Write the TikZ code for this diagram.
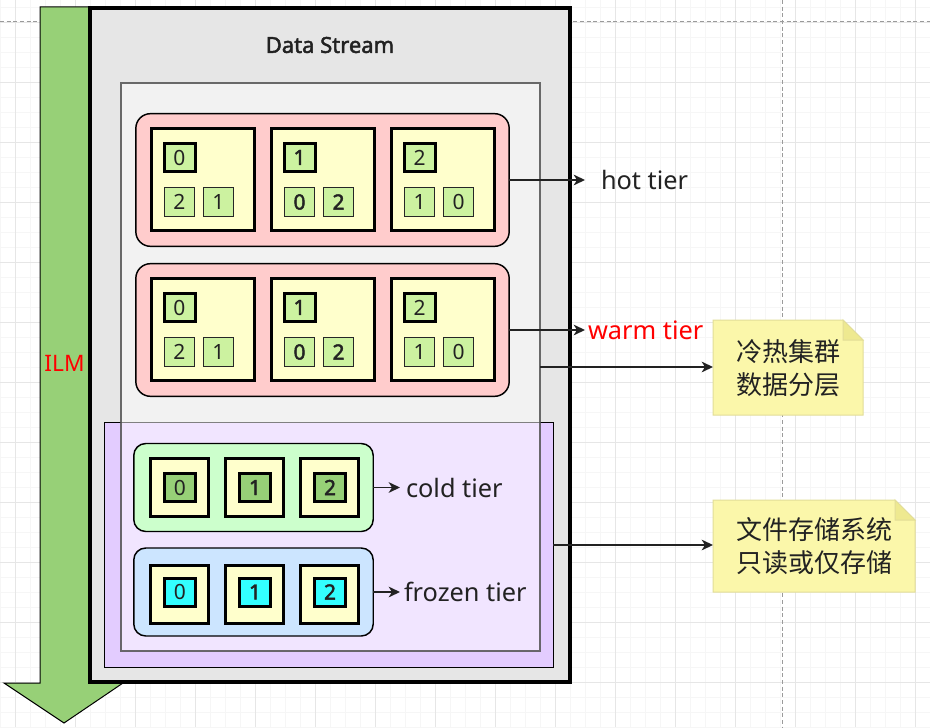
\documentclass[tikz,border=0pt]{standalone}
\usepackage{fontspec}
\setmainfont{Noto Sans}[AutoFakeBold=2.2]
\newfontfamily\cjk{Noto Sans CJK SC}
\usetikzlibrary{arrows.meta}
\definecolor{txt}{HTML}{222222}
\definecolor{gridmajor}{HTML}{E6E6E6}
\definecolor{gridminor}{HTML}{F6F6F6}
\definecolor{guide}{HTML}{9A9A9A}
\definecolor{ilmgreen}{HTML}{97D077}
\definecolor{streamgray}{HTML}{E6E6E6}
\definecolor{purplefill}{HTML}{E3CCFF}
\definecolor{pinkfill}{HTML}{FFCCCC}
\definecolor{boxyellow}{HTML}{FFFFCC}
\definecolor{shardgreen}{HTML}{CCF2A0}
\definecolor{coldgrp}{HTML}{CCFFCC}
\definecolor{coldshard}{HTML}{97D077}
\definecolor{frozengrp}{HTML}{CCE5FF}
\definecolor{frozenshard}{HTML}{33FFFF}
\definecolor{notefill}{HTML}{FBF7AA}
\definecolor{noteline}{HTML}{E2DD98}
\definecolor{notefold}{HTML}{EEE990}
\definecolor{ilmred}{HTML}{FF0000}
\begin{document}
\begin{tikzpicture}[x=0.75pt,y=-0.75pt,
  every node/.style={inner sep=0pt, outer sep=0pt},
  wt0/.style={font=\fontsize{15.75}{16}\selectfont},
  wt1/.style={font=\fontsize{15.75}{16}\selectfont\bfseries},
  grp/.style={draw=black, line width=1.1pt, rounded corners=11pt, minimum width=280pt, minimum height=99.5pt},
  grpsmall/.style={draw=black, line width=1.1pt, rounded corners=9pt, minimum width=179.6pt, minimum height=66pt},
  bigbox/.style={draw=black, line width=2.25pt, fill=boxyellow, minimum width=77.25pt, minimum height=76.5pt},
  smallbox/.style={draw=black, line width=2.25pt, fill=boxyellow, minimum width=43.5pt, minimum height=43.5pt},
  pshard/.style={draw=black, line width=2.25pt, fill=shardgreen, minimum width=23.25pt, minimum height=21pt, text=txt},
  rshard/.style={draw=black!85, line width=0.75pt, fill=shardgreen, minimum width=22.5pt, minimum height=21.75pt, text=txt},
  conn/.style={-{Stealth[length=8.5pt,width=8pt,inset=2.5pt]}, line width=1.2pt, draw=txt},
  tierlabel/.style={anchor=west, font=\fontsize{19}{19}\selectfont, text=txt},
  notebox/.style={minimum width=112.5pt, minimum height=71.25pt, align=center, text=txt,
    font=\cjk\fontsize{19.5}{24.75}\selectfont},
  notedraw/.style={draw=noteline, line width=0.75pt, fill=notefill}
]
\useasboundingbox (0,0) rectangle (930,727);
\fill[white] (0,0) rectangle (930,727);
% background grid
\foreach \i in {0,15,...,930} \draw[gridminor, line width=0.5pt] (\i,0) -- (\i,727);
\foreach \j in {7,22,...,727} \draw[gridminor, line width=0.5pt] (0,\j) -- (930,\j);
\foreach \i in {15,75,...,930} \draw[gridmajor, line width=0.7pt] (\i,0) -- (\i,727);
\foreach \j in {22,82,...,727} \draw[gridmajor, line width=0.7pt] (0,\j) -- (930,\j);
% guide lines
\draw[guide, line width=0.75pt, dash pattern=on 3pt off 2pt] (0,22) -- (930,22);
\draw[guide, line width=0.75pt, dash pattern=on 3pt off 2pt] (782,0) -- (782,727);

% ILM arrow
\draw[fill=ilmgreen, draw=black, line width=0.75pt]
  (40,7) -- (89,7) -- (89,683) -- (123,683) -- (64,723) -- (4,683) -- (40,683) -- cycle;
\node[text=ilmred, font=\fontsize{17}{17}\selectfont] (ilm) at (64.5,363) {ILM};

% Data stream
\node[draw=black, line width=2.6pt, fill=streamgray, minimum width=360pt, minimum height=505.5pt] (stream) at (330,345) {};
\node[text=txt, font=\fontsize{16.5}{16.5}\selectfont\bfseries] (streamlbl) at (330,45) {Data Stream};

% cold container (purple) and hot container (gray)
\node[draw=black, line width=1.1pt, fill=purplefill, minimum width=336.4pt, minimum height=183.4pt] (purple) at (329,545) {};
\node[draw=black!68, draw opacity=0.85, line width=1.5pt, fill=white, fill opacity=0.5, minimum width=314.25pt, minimum height=426pt] (gray) at (330.5,367) {};

% hot and warm groups
\foreach \g/\yy in {hot/180, warm/330} {
  \node[grp, fill=pinkfill] (\g) at (322.5,\yy) {};
  \foreach \k/\cx/\p/\ra/\rb/\w in {a/202.5/0/2/1/0, b/322.5/1/0/2/1, c/442.5/2/1/0/0} {
    \node[bigbox] (\g\k) at (\cx,\yy-0.5) {};
    \node[pshard, wt\w] (\g\k p) at (\cx-23,\yy-22.5) {\p};
    \node[rshard, wt\w] (\g\k r1) at (\cx-23,\yy+22) {\ra};
    \node[rshard, wt\w] (\g\k r2) at (\cx+16,\yy+22) {\rb};
  }
}

% cold and frozen groups
\foreach \g/\yy/\gf/\sf/\bo in {cold/487.5/coldgrp/coldshard/0, frozen/592/frozengrp/frozenshard/2} {
  \node[grpsmall, fill=\gf] (\g) at (253.5,\yy) {};
  \foreach \k/\cx/\d/\w in {a/179.5/0/0, b/254.5/1/1, c/329.5/2/1} {
    \node[smallbox] (\g\k) at (\cx,\yy+\bo) {};
    \node[pshard, fill=\sf, wt\w] (\g\k p) at (\cx+0.5,\yy) {\d};
  }
}

% tier arrows and labels
\coordinate (hotend) at (585,180);
\coordinate (warmend) at (585,330);
\coordinate (coldend) at (400,487.5);
\coordinate (frozenend) at (400,592);
\draw[conn] (hot.east) -- (hotend);
\draw[conn] (warm.east) -- (warmend);
\draw[conn] (cold.east) -- (coldend);
\draw[conn] (frozen.east) -- (frozenend);
\node[tierlabel] (hotlbl) at (601,180) {hot tier};
\node[tierlabel, text=ilmred] (warmlbl) at (588,330) {warm tier};
\node[tierlabel] (coldlbl) at (406,487.5) {cold tier};
\node[tierlabel] (frozenlbl) at (404,592) {frozen tier};

% notes
\node[notebox] (note1) at (788,367.5) {};
\draw[notedraw] (note1.north west) -- ([xshift=-15pt]note1.north east) -- ([yshift=-15pt]note1.north east) -- (note1.south east) -- (note1.south west) -- cycle;
\draw[notedraw, fill=notefold] ([xshift=-15pt]note1.north east) -- ([xshift=-15pt,yshift=-15pt]note1.north east) -- ([yshift=-15pt]note1.north east) -- cycle;
\node[notebox] (note1txt) at (788,368.5) {冷热集群\\数据分层};

\node[notebox, minimum width=151.5pt, minimum height=69pt] (note2) at (814,546) {};
\draw[notedraw] (note2.north west) -- ([xshift=-15pt]note2.north east) -- ([yshift=-15pt]note2.north east) -- (note2.south east) -- (note2.south west) -- cycle;
\draw[notedraw, fill=notefold] ([xshift=-15pt]note2.north east) -- ([xshift=-15pt,yshift=-15pt]note2.north east) -- ([yshift=-15pt]note2.north east) -- cycle;
\node[notebox] (note2txt) at (814,546.5) {文件存储系统\\只读或仅存储};

\draw[conn] (gray.east) -- (gray.east -| note1.west);
\draw[conn] (purple.east) -- (purple.east -| note2.west);
\end{tikzpicture}
\end{document}
